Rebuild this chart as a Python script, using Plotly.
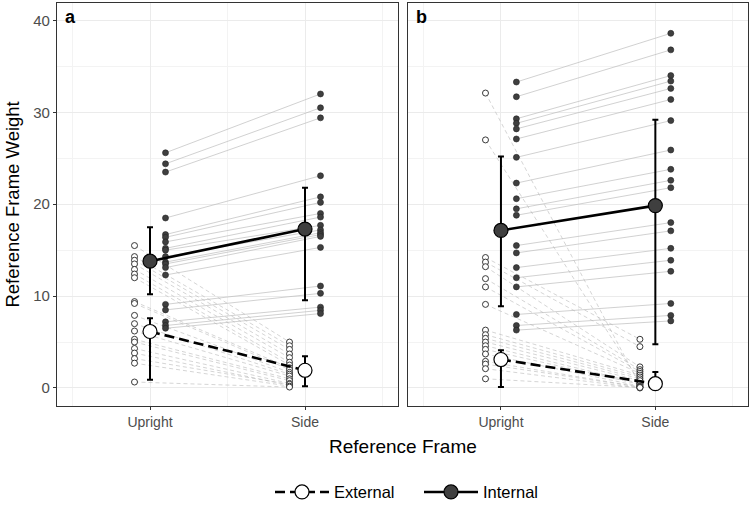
import plotly.graph_objects as go

# ---------------- data ----------------
categories = ["Upright", "Side"]
cat_pos = [1, 2]
dodge = 0.1

# panel a : individual participants (Upright, Side)
a_int_up = [25.6, 24.4, 23.5, 18.5, 16.7, 16.4, 15.9, 15.2, 15.0, 14.3, 13.7, 13.5, 13.1, 12.3, 9.1, 8.5, 7.2, 6.8, 6.5]
a_int_side = [32.0, 30.5, 29.4, 23.1, 20.8, 20.2, 19.0, 18.6, 17.7, 17.2, 16.9, 16.7, 16.5, 15.3, 11.1, 10.3, 8.8, 8.45, 8.1]
a_ext_up = [15.5, 14.3, 13.9, 13.5, 12.9, 12.4, 12.0, 9.4, 9.2, 7.9, 7.0, 6.2, 5.3, 5.0, 4.3, 3.8, 3.2, 2.7, 0.65]
a_ext_side = [5.0, 4.6, 4.2, 3.7, 3.3, 2.8, 2.5, 2.2, 2.0, 1.7, 1.5, 1.3, 1.0, 0.8, 0.5, 0.3, 0.4, 0.2, 0.1]

# panel b
b_int_up = [33.3, 31.7, 29.3, 28.8, 28.2, 27.1, 25.1, 22.3, 20.6, 19.5, 18.8, 15.5, 14.7, 13.1, 12.0, 11.0, 8.0, 6.8, 6.3]
b_int_side = [38.6, 36.8, 34.0, 33.4, 32.6, 31.4, 29.1, 25.9, 23.8, 22.6, 21.8, 18.0, 17.1, 15.2, 13.9, 12.7, 9.2, 7.9, 7.3]
b_ext_up = [32.1, 27.0, 14.2, 13.7, 13.2, 11.9, 11.0, 9.1, 6.3, 5.8, 5.4, 5.0, 4.6, 4.2, 3.7, 2.9, 2.6, 2.1, 1.0]
b_ext_side = [0.3, 0.6, 5.3, 4.5, 2.3, 2.0, 1.8, 1.6, 1.4, 1.2, 1.0, 0.8, 0.5, 0.4, 0.2, 0.1, 0.1, 0.0, 0.05]

# summary (centre, lower, upper) per frame
a_ext_mean = [6.15, 1.93]
a_ext_lo = [0.9, 0.2]
a_ext_hi = [7.6, 3.45]
a_int_mean = [13.8, 17.3]
a_int_lo = [10.2, 9.55]
a_int_hi = [17.5, 21.8]

b_ext_mean = [3.1, 0.47]
b_ext_lo = [0.1, 0.0]
b_ext_hi = [4.1, 1.74]
b_int_mean = [17.15, 19.85]
b_int_lo = [8.9, 4.75]
b_int_hi = [25.2, 29.2]

y_ticks = [0, 10, 20, 30, 40]
panel_labels = ["a", "b"]

# ---------------- styles ----------------
DARK = "#3f3f3f"
FONT = "Liberation Sans, Arial, sans-serif"

fig = go.Figure()


def pair_lines(up, side, off):
    xs, ys = [], []
    for u, s in zip(up, side):
        xs += [cat_pos[0] + off, cat_pos[1] + off, None]
        ys += [u, s, None]
    return xs, ys


def add_panel(idx, int_up, int_side, ext_up, ext_side,
              ext_mean, ext_lo, ext_hi, int_mean, int_lo, int_hi):
    xa = "x" if idx == 0 else "x2"
    ya = "y" if idx == 0 else "y2"
    # individual grey lines
    xs, ys = pair_lines(ext_up, ext_side, -dodge)
    fig.add_trace(go.Scatter(x=xs, y=ys, mode="lines", xaxis=xa, yaxis=ya,
                             line=dict(color="rgba(185,185,185,0.6)", width=1, dash="4px,3px"),
                             showlegend=False, hoverinfo="skip"))
    xs, ys = pair_lines(int_up, int_side, dodge)
    fig.add_trace(go.Scatter(x=xs, y=ys, mode="lines", xaxis=xa, yaxis=ya,
                             line=dict(color="rgba(185,185,185,0.65)", width=1),
                             showlegend=False, hoverinfo="skip"))
    # individual points
    fig.add_trace(go.Scatter(
        x=[cat_pos[0] - dodge] * len(ext_up) + [cat_pos[1] - dodge] * len(ext_side),
        y=ext_up + ext_side, mode="markers", xaxis=xa, yaxis=ya,
        marker=dict(size=6, color="white", line=dict(color="#222222", width=0.9)),
        showlegend=False))
    fig.add_trace(go.Scatter(
        x=[cat_pos[0] + dodge] * len(int_up) + [cat_pos[1] + dodge] * len(int_side),
        y=int_up + int_side, mode="markers", xaxis=xa, yaxis=ya,
        marker=dict(size=6, color=DARK, line=dict(color="#222222", width=0.6)),
        showlegend=False))
    # summary
    for name, mean, lo, hi, fill, dash in [
        ("External", ext_mean, ext_lo, ext_hi, "white", "10px,5px"),
        ("Internal", int_mean, int_lo, int_hi, DARK, "solid"),
    ]:
        fig.add_trace(go.Scatter(
            x=cat_pos, y=mean, mode="lines+markers", xaxis=xa, yaxis=ya, name=name,
            line=dict(color="black", width=2.6, dash=dash),
            marker=dict(size=14, color=fill, line=dict(color="black", width=1.2)),
            error_y=dict(type="data", symmetric=False,
                         array=[h - m for h, m in zip(hi, mean)],
                         arrayminus=[m - l for m, l in zip(mean, lo)],
                         color="black", thickness=2, width=3),
            showlegend=(idx == 0), legendgroup=name))


add_panel(0, a_int_up, a_int_side, a_ext_up, a_ext_side,
          a_ext_mean, a_ext_lo, a_ext_hi, a_int_mean, a_int_lo, a_int_hi)
add_panel(1, b_int_up, b_int_side, b_ext_up, b_ext_side,
          b_ext_mean, b_ext_lo, b_ext_hi, b_int_mean, b_int_lo, b_int_hi)

L, R, T, B = 57, 3, 3, 104
W, H = 751, 510
pw = W - L - R
d1 = (398 - L) / pw
d2 = (408.3 - L) / pw

xcommon = dict(range=[0.4, 2.6], tickvals=cat_pos, ticktext=categories, automargin=False,
               showgrid=True, gridcolor="#ebebeb", gridwidth=1,
               minor=dict(tickvals=[0.5, 1.5, 2.5], showgrid=True, gridcolor="#f3f3f3", gridwidth=0.6),
               showline=True, mirror=True, linecolor="#333333", linewidth=1.2,
               ticks="outside", ticklen=3, tickcolor="#333333",
               tickfont=dict(size=14, color="#4d4d4d", family=FONT), zeroline=False)
ycommon = dict(range=[-1.96, 41.9], tickvals=y_ticks, automargin=False,
               showgrid=True, gridcolor="#ebebeb", gridwidth=1,
               minor=dict(tickvals=[5, 15, 25, 35], showgrid=True, gridcolor="#f3f3f3", gridwidth=0.6),
               showline=True, mirror=True, linecolor="#333333", linewidth=1.2,
               zeroline=False)

fig.update_layout(
    width=W, height=H,
    margin=dict(l=L, r=R, t=T, b=B, autoexpand=False),
    paper_bgcolor="white", plot_bgcolor="white",
    font=dict(family=FONT, color="black"),
    xaxis=dict(domain=[0, d1], **xcommon),
    xaxis2=dict(domain=[d2, 1], **xcommon),
    yaxis=dict(ticks="outside", ticklen=3, tickcolor="#333333",
               tickfont=dict(size=15, color="#4d4d4d", family=FONT), **ycommon),
    yaxis2=dict(anchor="x2", showticklabels=False, ticks="", **ycommon),
    legend=dict(orientation="h", x=(270 - L) / pw, xanchor="left", y=-0.214, yanchor="middle",
                font=dict(size=16.5, family=FONT), itemwidth=54, entrywidth=80,
                bgcolor="rgba(0,0,0,0)"),
    showlegend=True,
)

annotations = [
    dict(text="Reference Frame", x=0.5, y=-0.1, xref="paper", yref="paper",
         xanchor="center", yanchor="middle", showarrow=False, font=dict(size=19, family=FONT)),
    dict(text="Reference Frame Weight", x=-0.065, y=0.5, xref="paper", yref="paper",
         textangle=-90, xanchor="center", yanchor="middle", showarrow=False,
         font=dict(size=18.5, family=FONT)),
]
for i, lab in enumerate(panel_labels):
    annotations.append(dict(text="<b>%s</b>" % lab, x=0.44, y=40.4,
                            xref="x" if i == 0 else "x2", yref="y",
                            xanchor="left", yanchor="middle", showarrow=False,
                            font=dict(size=18, family=FONT)))
fig.update_layout(annotations=annotations)

fig.write_html("out.html", config={"displayModeBar": False},
               post_script="document.body.style.margin='0';")
